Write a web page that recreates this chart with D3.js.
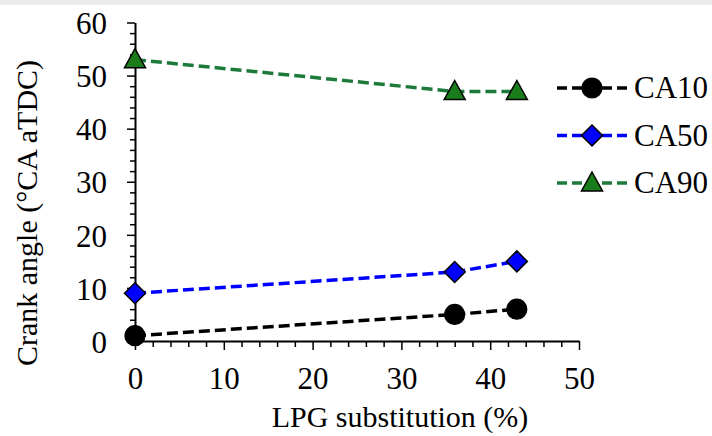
<!DOCTYPE html>
<html>
<head>
<meta charset="utf-8">
<script src="https://cdn.jsdelivr.net/npm/d3@7"></script>
<style>
  body { margin: 0; background: #fff; }
  svg { display: block; }
</style>
</head>
<body>
<svg id="chart" width="712" height="436"></svg>
<script>
// data
const substitution = [0, 36, 43];
const ca10 = [1, 5, 6];
const ca50 = [9, 13, 15];
const ca90 = [53, 47, 47];
const seriesNames = ['CA10', 'CA50', 'CA90'];
const xTicks = [0, 10, 20, 30, 40, 50];
const yTicks = [0, 10, 20, 30, 40, 50, 60];

const FONT = 'Liberation Serif';
const svg = d3.select('#chart');
const width = 712, height = 436;

// faint grey band along the top edge of the scan
svg.append('rect').attr('x', 0).attr('y', 0).attr('width', width).attr('height', 5).attr('fill', '#ebebeb');

const x = d3.scaleLinear().domain([0, 50]).range([135, 579]);
const y = d3.scaleLinear().domain([0, 60]).range([341, 22.5]);

const series = [
    {name: seriesNames[0], values: ca10, line: '#000000', fill: '#000000', shape: 'circle'},
    {name: seriesNames[1], values: ca50, line: '#0000ff', fill: '#0000ff', shape: 'diamond'},
    {name: seriesNames[2], values: ca90, line: '#1d7a3b', fill: '#1a7c1a', shape: 'triangle'}
];

// minor ticks first, then major with labels
const minorX = d3.range(0, 51, 2).filter(d => d % 10 !== 0);
const minorY = d3.range(0, 61, 2).filter(d => d % 10 !== 0);

svg.append('g').attr('transform', `translate(0,${y(0)})`)
    .call(d3.axisBottom(x).tickValues(minorX).tickSize(6).tickFormat(''))
    .call(g => g.select('.domain').remove())
    .selectAll('line').attr('stroke', '#000').attr('stroke-width', 1.5);
svg.append('g').attr('transform', `translate(${x(0)},0)`)
    .call(d3.axisLeft(y).tickValues(minorY).tickSize(5).tickFormat(''))
    .call(g => g.select('.domain').remove())
    .selectAll('line').attr('stroke', '#000').attr('stroke-width', 1.5);

const xAxis = svg.append('g').attr('transform', `translate(0,${y(0)})`)
    .call(d3.axisBottom(x).tickValues(xTicks).tickSize(9).tickSizeOuter(0).tickPadding(17));
xAxis.attr('font-family', FONT).attr('font-size', 31);
xAxis.select('.domain').attr('stroke', '#000').attr('stroke-width', 2);
xAxis.selectAll('line').attr('stroke', '#000').attr('stroke-width', 1.5);
xAxis.selectAll('text').style('font-family', FONT).attr('font-size', 31).attr('fill', '#000');

const yAxis = svg.append('g').attr('transform', `translate(${x(0)},0)`)
    .call(d3.axisLeft(y).tickValues(yTicks).tickSize(8).tickSizeOuter(0).tickPadding(20));
yAxis.attr('font-family', FONT).attr('font-size', 31);
yAxis.select('.domain').attr('stroke', '#000').attr('stroke-width', 2);
yAxis.selectAll('line').attr('stroke', '#000').attr('stroke-width', 1.5);
yAxis.selectAll('text').style('font-family', FONT).attr('font-size', 31).attr('fill', '#000').attr('dy', '0.36em');

// axis titles
svg.append('text')
    .attr('x', 400).attr('y', 427)
    .attr('text-anchor', 'middle').style('font-family', FONT).attr('font-size', 30)
    .text('LPG substitution (%)');
svg.append('text')
    .attr('transform', 'translate(37,213) rotate(-90)')
    .attr('text-anchor', 'middle').style('font-family', FONT).attr('font-size', 30)
    .text('Crank angle (°CA aTDC)');

function marker(g, shape, cx, cy, fill) {
    if (shape === 'circle') {
        g.append('circle').attr('cx', cx).attr('cy', cy).attr('r', 10)
            .attr('fill', fill).attr('stroke', '#000').attr('stroke-width', 1.2);
    } else if (shape === 'diamond') {
        g.append('path').attr('d', `M${cx},${cy - 10.5}L${cx + 10.5},${cy}L${cx},${cy + 10.5}L${cx - 10.5},${cy}Z`)
            .attr('fill', fill).attr('stroke', '#000').attr('stroke-width', 1.5);
    } else {
        g.append('path').attr('d', `M${cx},${cy - 11}L${cx + 10.5},${cy + 8}L${cx - 10.5},${cy + 8}Z`)
            .attr('fill', fill).attr('stroke', '#000').attr('stroke-width', 1.5);
    }
}

const line = d3.line().x((d, i) => x(substitution[i])).y(d => y(d));
const plot = svg.append('g');
series.forEach(s => {
    plot.append('path').attr('d', line(s.values))
        .attr('fill', 'none').attr('stroke', s.line).attr('stroke-width', 3.5)
        .attr('stroke-dasharray', '11,5');
});
series.forEach(s => {
    s.values.forEach((v, i) => marker(plot, s.shape, x(substitution[i]), y(v), s.fill));
});

// legend
const legend = svg.append('g');
series.forEach((s, i) => {
    const ly = 88 + i * 47.5;
    legend.append('line').attr('x1', 557).attr('x2', 627).attr('y1', ly).attr('y2', ly)
        .attr('stroke', s.line).attr('stroke-width', 3.5).attr('stroke-dasharray', '10,5');
    marker(legend, s.shape, 592, ly, s.fill);
    legend.append('text').attr('x', 634).attr('y', ly + 10)
        .style('font-family', FONT).attr('font-size', 31).text(s.name);
});
</script>
</body>
</html>
